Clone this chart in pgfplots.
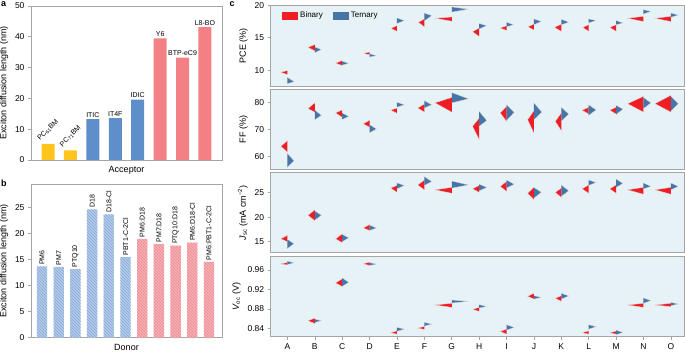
\documentclass[border=0pt]{standalone}
\usepackage{fontspec}
\setmainfont{Liberation Sans}
\usepackage{pgfplots}
\pgfplotsset{compat=1.18}
\usetikzlibrary{patterns}
\definecolor{ayel}{RGB}{255,197,30}
\definecolor{ablue}{RGB}{95,143,203}
\definecolor{ared}{RGB}{243,128,133}
\definecolor{bblue}{RGB}{178,202,234}
\definecolor{bbluel}{RGB}{140,170,212}
\definecolor{bred}{RGB}{248,174,180}
\definecolor{bredl}{RGB}{232,140,148}
\definecolor{vred}{RGB}{238,30,36}
\definecolor{vblue}{RGB}{72,117,168}
\definecolor{cbg}{RGB}{231,242,247}
\definecolor{frm}{RGB}{165,165,165}
\pgfplotsset{
 base/.style={scale only axis, anchor=south west,
  axis line style={frm, line width=0.8pt},
  tick style={frm, line width=0.6pt}, tick align=outside, major tick length=3pt,
  xtick pos=bottom, ytick pos=left,
  tick label style={font=\fontsize{8.5}{9}\selectfont},
  label style={font=\fontsize{9}{10}\selectfont},
  /pgf/number format/assume math mode=true},
 cstyle/.style={base, width=413.6pt, xmin=-0.61, xmax=14.49,
  axis line style={frm, line width=1pt},
  axis background/.style={fill=cbg}, unbounded coords=jump, xtick=\empty},
 bin/.style={fill=vred, draw=white!75!gray, line width=0.3pt},
 ter/.style={fill=vblue, draw=white!75!gray, line width=0.3pt},
}
\begin{document}
\begin{tikzpicture}
\useasboundingbox (0pt,0pt) rectangle (685pt,352pt);
% panel a
\begin{axis}[base, at={(31pt,192pt)}, width=191pt, height=154pt,
  xmin=-0.76, xmax=7.76, ymin=0, ymax=50, ytick={0,10,...,50}, xtick=\empty,
  xlabel={Acceptor}, ylabel={Exciton diffusion length (nm)},
  point meta=explicit symbolic]
\addplot[ybar, bar width=0.58, bar shift=0pt, fill=ayel, draw=none]
  coordinates {(0,5.2) (1,3.1)};
\addplot[ybar, bar width=0.58, bar shift=0pt, fill=ablue, draw=none,
  nodes near coords,
  every node near coord/.style={font=\fontsize{7}{8}\selectfont, text=black, anchor=south, inner sep=1.5pt}]
  coordinates {(2,13.3)[ITIC] (3,13.6)[IT4F] (4,19.6)[IDIC]};
\addplot[ybar, bar width=0.58, bar shift=0pt, fill=ared, draw=none,
  nodes near coords,
  every node near coord/.style={font=\fontsize{7}{8}\selectfont, text=black, anchor=south, inner sep=1.5pt}]
  coordinates {(5,39.5)[Y6] (6,33.2)[BTP-eC9] (7,43.1)[L8-BO]};
\node[font=\fontsize{7}{8}\selectfont, rotate=45, anchor=center, inner sep=0pt] at ([yshift=14pt]axis cs:0,5.2) {PC\textsubscript{61}BM};
\node[font=\fontsize{7}{8}\selectfont, rotate=45, anchor=center, inner sep=0pt] at ([yshift=14pt]axis cs:1,3.1) {PC\textsubscript{71}BM};
\end{axis}
% panel b
\begin{axis}[base, at={(31pt,14.3pt)}, width=191pt, height=153.4pt,
  xmin=-0.66, xmax=10.78, ymin=0, ymax=29.5, ytick={0,5,...,25}, xtick=\empty,
  xlabel={Donor}, ylabel={Exciton diffusion length (nm)},
  nodes near coords, point meta=explicit symbolic,
  nodes near coords style={font=\fontsize{7}{8}\selectfont, text=black, rotate=90, anchor=west, inner sep=1.5pt}]
\addplot[ybar, bar width=0.62, bar shift=0pt, fill=bblue, draw=none,
  postaction={pattern=north west lines, pattern color=bbluel}]
  coordinates {(0,13.7)[PM6] (1,13.6)[PM7] (2,13.2)[PTQ10] (3,24.7)[D18] (4,23.7)[D18-Cl] (5,15.5)[PBT1-C-2Cl]};
\addplot[ybar, bar width=0.62, bar shift=0pt, fill=bred, draw=none,
  postaction={pattern=north west lines, pattern color=bredl}]
  coordinates {(6,19.0)[PM6:D18] (7,18.0)[PM7:D18] (8,17.7)[PTQ10:D18] (9,18.3)[PM6:D18-Cl] (10,14.6)[PM6:PBT1-C-2Cl]};
\end{axis}
% panel c: PCE
\begin{axis}[cstyle, at={(270.7pt,265.3pt)}, height=81.4pt,
  ymin=7.48, ymax=20, ytick={10,15,20}, ylabel={PCE (\%)},
  legend style={draw=none, fill=none, at={(0.02,0.97)}, anchor=north west,
   legend columns=2, font=\fontsize{8}{9}\selectfont,
   /tikz/every even column/.append style={column sep=8pt}},
  legend image code/.code={\fill[#1, draw=none] (0pt,-4pt) rectangle (16pt,4pt);}]
\addplot[bin] coordinates {
(0,9.35) (-0.25,9.7) (0,9.95) (0,nan)
(1,13.0) (0.75,13.53) (1,13.95) (0,nan)
(2,10.75) (1.76,11.1) (2,11.5) (0,nan)
(3,12.4) (2.77,12.6) (3,12.8) (0,nan)
(4,16.0) (3.78,16.45) (4,16.87) (0,nan)
(5,16.7) (4.78,17.38) (5,17.9) (0,nan)
(6,17.55) (5.4,18.0) (6,18.2) (0,nan)
(7,15.2) (6.76,15.94) (7,16.5) (0,nan)
(8,16.15) (7.77,16.5) (8,16.85) (0,nan)
(9,16.2) (8.78,16.7) (9,17.1) (0,nan)
(10,16.0) (9.75,16.6) (10,17.1) (0,nan)
(11,16.0) (10.78,16.6) (11,17.0) (0,nan)
(12,16.0) (11.77,16.6) (12,17.0) (0,nan)
(13,17.5) (12.42,18.0) (13,18.3) (0,nan)
(14,17.5) (13.42,18.0) (14,18.3)};
\addplot[ter] coordinates {
(0,7.95) (0.25,8.25) (0,8.9) (0,nan)
(1,12.7) (1.24,13.18) (1,13.6) (0,nan)
(2,10.8) (2.24,11.07) (2,11.4) (0,nan)
(3,12.05) (3.25,12.25) (3,12.55) (0,nan)
(4,17.2) (4.27,17.64) (4,18.05) (0,nan)
(5,17.6) (5.27,18.4) (5,18.8) (0,nan)
(6,18.95) (6.6,19.4) (6,19.75) (0,nan)
(7,16.35) (7.27,16.87) (7,17.2) (0,nan)
(8,16.7) (8.26,17.0) (8,17.4) (0,nan)
(9,17.0) (9.27,17.53) (9,17.9) (0,nan)
(10,17.0) (10.27,17.4) (10,17.85) (0,nan)
(11,17.3) (11.27,17.65) (11,17.9) (0,nan)
(12,17.0) (12.25,17.28) (12,17.65) (0,nan)
(13,18.66) (13.27,19.07) (13,19.33) (0,nan)
(14,18.15) (14.27,18.5) (14,18.8)};
\legend{Binary,Ternary}
\end{axis}
% FF
\begin{axis}[cstyle, at={(270.7pt,182pt)}, height=80.7pt,
  ymin=55.1, ymax=84.8, ytick={60,70,80}, ylabel={FF (\%)}]
\addplot[bin] coordinates {
(0,61.7) (-0.24,63.8) (0,65.9) (0,nan)
(1,76.4) (0.75,77.7) (1,79.8) (0,nan)
(2,74.5) (1.76,76.1) (2,77.2) (0,nan)
(3,70.8) (2.77,72.1) (3,73.4) (0,nan)
(4,76.0) (3.77,77.1) (4,77.9) (0,nan)
(5,76.4) (4.76,77.9) (5,79.4) (0,nan)
(6,76.4) (5.39,79.8) (6,81.8) (0,nan)
(7,66.3) (6.76,71.2) (7,74.2) (0,nan)
(8,73.0) (7.77,76.1) (8,78.5) (0,nan)
(9,68.7) (8.77,73.6) (9,76.9) (0,nan)
(10,69.6) (9.78,73.0) (10,76.1) (0,nan)
(11,75.7) (10.76,77.1) (11,78.2) (0,nan)
(12,75.7) (11.77,77.1) (12,78.2) (0,nan)
(13,76.4) (12.42,79.5) (13,82.2) (0,nan)
(14,76.4) (13.42,79.5) (14,82.6)};
\addplot[ter] coordinates {
(0,56.1) (0.24,58.5) (0,61.2) (0,nan)
(1,73.6) (1.24,75.2) (1,77.2) (0,nan)
(2,73.7) (2.24,74.8) (2,76.1) (0,nan)
(3,68.8) (3.25,70.2) (3,71.8) (0,nan)
(4,78.2) (4.27,79.1) (4,80.0) (0,nan)
(5,77.9) (5.27,79.1) (5,80.6) (0,nan)
(6,79.8) (6.61,81.3) (6,83.6) (0,nan)
(7,71.2) (7.28,73.3) (7,76.7) (0,nan)
(8,73.3) (8.28,76.3) (8,79.1) (0,nan)
(9,73.6) (9.29,76.4) (9,79.8) (0,nan)
(10,73.0) (10.27,75.7) (10,78.2) (0,nan)
(11,75.2) (11.27,77.2) (11,79.1) (0,nan)
(12,75.5) (12.25,77.5) (12,78.9) (0,nan)
(13,77.7) (13.27,79.8) (13,81.8) (0,nan)
(14,76.7) (14.27,79.5) (14,82.2)};
\end{axis}
% Jsc
\begin{axis}[cstyle, at={(270.7pt,99pt)}, height=80.3pt,
  ymin=12.7, ymax=29.1, ytick={15,20,25},
  ylabel={\textit{J}\textsubscript{sc} (mA cm\textsuperscript{−2})}]
\addplot[bin] coordinates {
(0,15.0) (-0.24,15.6) (0,16.3) (0,nan)
(1,19.3) (0.75,20.4) (1,21.5) (0,nan)
(2,14.8) (1.76,15.6) (2,16.6) (0,nan)
(3,17.3) (2.77,17.8) (3,18.5) (0,nan)
(4,25.1) (3.77,25.95) (4,26.5) (0,nan)
(5,25.6) (4.76,26.6) (5,27.6) (0,nan)
(6,24.9) (5.39,25.6) (6,26.1) (0,nan)
(7,25.1) (6.76,25.8) (7,26.5) (0,nan)
(8,25.3) (7.77,26.3) (8,27.3) (0,nan)
(9,23.6) (8.77,24.9) (9,26.1) (0,nan)
(10,24.05) (9.78,25.1) (10,25.95) (0,nan)
(11,24.9) (10.76,25.8) (11,26.6) (0,nan)
(12,24.9) (11.77,25.8) (12,26.6) (0,nan)
(13,24.7) (12.42,25.6) (13,26.1) (0,nan)
(14,24.7) (13.42,25.6) (14,26.1)};
\addplot[ter] coordinates {
(0,13.6) (0.24,14.6) (0,15.5) (0,nan)
(1,19.4) (1.24,20.4) (1,21.3) (0,nan)
(2,15.0) (2.24,15.8) (2,16.5) (0,nan)
(3,17.3) (3.25,17.8) (3,18.4) (0,nan)
(4,25.8) (4.27,26.5) (4,27.0) (0,nan)
(5,26.5) (5.27,27.3) (5,28.3) (0,nan)
(6,25.95) (6.61,26.6) (6,27.4) (0,nan)
(7,25.4) (7.28,26.1) (7,26.75) (0,nan)
(8,25.95) (8.28,26.75) (8,27.6) (0,nan)
(9,23.9) (9.27,25.1) (9,26.1) (0,nan)
(10,24.25) (10.27,25.4) (10,26.6) (0,nan)
(11,26.5) (11.27,27.1) (11,27.6) (0,nan)
(12,26.1) (12.25,26.9) (12,27.8) (0,nan)
(13,25.8) (13.27,26.3) (13,27.0) (0,nan)
(14,25.6) (14.27,26.3) (14,27.0)};
\end{axis}
% Voc
\begin{axis}[cstyle, at={(270.7pt,15.3pt)}, height=80pt,
  ymin=0.823, ymax=0.987, ytick={0.84,0.88,0.92,0.96},
  yticklabel style={/pgf/number format/fixed, /pgf/number format/precision=2, /pgf/number format/fixed zerofill},
  xtick={0,...,14}, xticklabels={A,B,C,D,E,F,G,H,I,J,K,L,M,N,O},
  ylabel={\textit{V}\textsubscript{oc} (V)}]
\addplot[bin] coordinates {
(0,0.970) (-0.24,0.9723) (0,0.975) (0,nan)
(1,0.850) (0.75,0.8557) (1,0.861) (0,nan)
(2,0.926) (1.76,0.9332) (2,0.9415) (0,nan)
(3,0.969) (2.77,0.9723) (3,0.976) (0,nan)
(4,0.8283) (3.77,0.831) (4,0.835) (0,nan)
(5,0.838) (4.76,0.8406) (5,0.844) (0,nan)
(6,0.8832) (5.39,0.888) (6,0.8914) (0,nan)
(7,0.875) (6.76,0.879) (7,0.883) (0,nan)
(8,0.8283) (7.77,0.8338) (8,0.8386) (0,nan)
(9,0.9003) (8.77,0.9058) (9,0.912) (0,nan)
(10,0.8955) (9.78,0.9017) (10,0.907) (0,nan)
(11,0.8283) (10.76,0.831) (11,0.835) (0,nan)
(12,0.8283) (11.77,0.831) (12,0.8345) (0,nan)
(13,0.8832) (12.42,0.888) (13,0.8914) (0,nan)
(14,0.8845) (13.42,0.888) (14,0.8914)};
\addplot[ter] coordinates {
(0,0.971) (0.24,0.9744) (0,0.978) (0,nan)
(1,0.852) (1.24,0.8557) (1,0.859) (0,nan)
(2,0.926) (2.24,0.9346) (2,0.9435) (0,nan)
(3,0.969) (3.25,0.9717) (3,0.975) (0,nan)
(4,0.834) (4.27,0.8386) (4,0.842) (0,nan)
(5,0.8447) (5.27,0.8489) (5,0.8523) (0,nan)
(6,0.892) (6.61,0.8955) (6,0.8982) (0,nan)
(7,0.8818) (7.28,0.885) (7,0.8887) (0,nan)
(8,0.8365) (8.28,0.842) (8,0.8475) (0,nan)
(9,0.900) (9.27,0.9037) (9,0.907) (0,nan)
(10,0.900) (10.27,0.9065) (10,0.912) (0,nan)
(11,0.8386) (11.27,0.8434) (11,0.8475) (0,nan)
(12,0.827) (12.25,0.8317) (12,0.8365) (0,nan)
(13,0.8914) (13.27,0.8969) (13,0.9024) (0,nan)
(14,0.8866) (14.27,0.89) (14,0.8935)};
\end{axis}
\node[font=\bfseries\fontsize{9}{10}\selectfont, anchor=north west, inner sep=0pt] at (1pt,350.5pt) {a};
\node[font=\bfseries\fontsize{9}{10}\selectfont, anchor=north west, inner sep=0pt] at (1pt,172pt) {b};
\node[font=\bfseries\fontsize{9}{10}\selectfont, anchor=north west, inner sep=0pt] at (229.5pt,350.5pt) {c};
\end{tikzpicture}
\end{document}
